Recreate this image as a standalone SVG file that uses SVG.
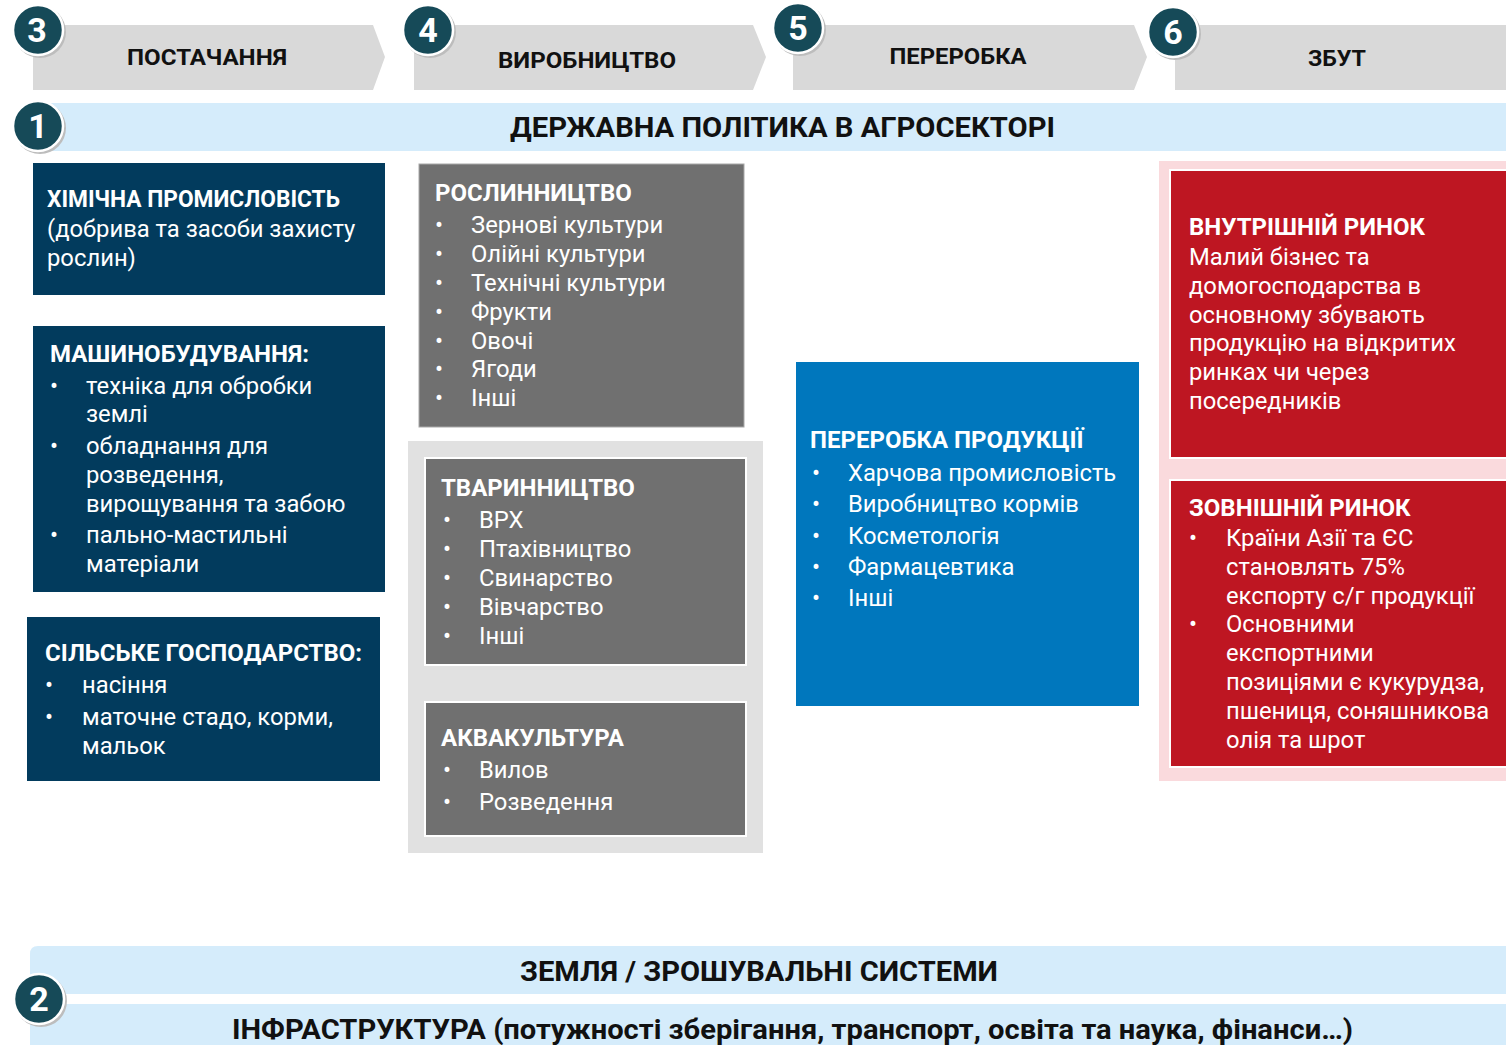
<svg xmlns="http://www.w3.org/2000/svg" width="1506" height="1045" viewBox="0 0 1506 1045">
<defs>
<style>
text{font-family:Roboto,"Liberation Sans",Arial,sans-serif;}
.chev{fill:#d9d9d9;}
.chevt{font-size:22px;font-weight:700;fill:#111;text-anchor:middle;}
.band{fill:#d5ecfb;}
.bandt{font-size:28px;font-weight:700;fill:#111;}
.circ{fill:#164a58;stroke:#fff;stroke-width:2.5;}
.circs{fill:#bdbdbd;}
.num{font-size:34px;font-weight:700;fill:#fff;text-anchor:middle;}
.navy{fill:#023b5d;}
.gray{fill:#707070;}
.grayc{fill:#e1e1e1;}
.blue{fill:#0077bd;}
.pink{fill:#fadadd;}
.red{fill:#be1622;stroke:#fff;stroke-width:2;}
.t{font-size:23.8px;fill:#fff;}
.b{font-weight:700;font-size:24px;}
</style>
</defs>
<rect width="1506" height="1045" fill="#fff"/>

<g id="stage-3-supply">
<polygon class="chev" points="33,25 373,25 385,57 373,90 33,90"/>
<text class="chevt" x="207" y="65" textLength="160" lengthAdjust="spacingAndGlyphs">ПОСТАЧАННЯ</text>
<circle class="circs" cx="40" cy="32" r="26"/>
<circle class="circ" cx="38" cy="30" r="25"/>
<text class="num" x="37" y="42">3</text>
</g>

<g id="stage-4-production">
<polygon class="chev" points="414,25 753,25 766,57 753,90 414,90"/>
<text class="chevt" x="587" y="68" textLength="178" lengthAdjust="spacingAndGlyphs">ВИРОБНИЦТВО</text>
<circle class="circs" cx="430" cy="32" r="26"/>
<circle class="circ" cx="428" cy="30" r="25"/>
<text class="num" x="428" y="42">4</text>
</g>

<g id="stage-5-processing">
<polygon class="chev" points="793,25 1134,25 1147,57 1134,90 793,90"/>
<text class="chevt" x="958" y="64" textLength="137" lengthAdjust="spacingAndGlyphs">ПЕРЕРОБКА</text>
<circle class="circs" cx="800" cy="30" r="26"/>
<circle class="circ" cx="798" cy="28" r="25"/>
<text class="num" x="798" y="40">5</text>
</g>

<g id="stage-6-sales">
<polygon class="chev" points="1175,25 1506,25 1506,90 1175,90"/>
<text class="chevt" x="1337" y="66" textLength="58" lengthAdjust="spacingAndGlyphs">ЗБУТ</text>
<circle class="circs" cx="1175" cy="34" r="26"/>
<circle class="circ" cx="1173" cy="32" r="25"/>
<text class="num" x="1173" y="44">6</text>
</g>

<g id="policy-band">
<rect class="band" x="40" y="103" width="1466" height="48"/>
<text class="bandt" x="510" y="137" textLength="545" lengthAdjust="spacingAndGlyphs">ДЕРЖАВНА ПОЛІТИКА В АГРОСЕКТОРІ</text>
<circle class="circs" cx="40" cy="128" r="26"/>
<circle class="circ" cx="38" cy="126" r="25"/>
<text class="num" x="38" y="138">1</text>
</g>

<g id="chemical-industry">
<rect class="navy" x="33" y="163" width="352" height="132"/>
<text class="t b" x="47" y="207" textLength="293" lengthAdjust="spacingAndGlyphs">ХІМІЧНА ПРОМИСЛОВІСТЬ</text>
<text class="t" x="47" y="237">(добрива та засоби захисту</text>
<text class="t" x="47" y="266">рослин)</text>
</g>

<g id="machinery">
<rect class="navy" x="33" y="326" width="352" height="266"/>
<text class="t b" x="50" y="362">МАШИНОБУДУВАННЯ:</text>
<text class="t" x="50" y="394">•</text><text class="t" x="86" y="394">техніка для обробки</text>
<text class="t" x="86" y="422">землі</text>
<text class="t" x="50" y="454">•</text><text class="t" x="86" y="454">обладнання для</text>
<text class="t" x="86" y="483">розведення,</text>
<text class="t" x="86" y="512">вирощування та забою</text>
<text class="t" x="50" y="543">•</text><text class="t" x="86" y="543">пально-мастильні</text>
<text class="t" x="86" y="572">матеріали</text>
</g>

<g id="agriculture">
<rect class="navy" x="27" y="617" width="353" height="164"/>
<text class="t b" x="45" y="661">СІЛЬСЬКЕ ГОСПОДАРСТВО:</text>
<text class="t" x="45" y="693">•</text><text class="t" x="82" y="693">насіння</text>
<text class="t" x="45" y="725">•</text><text class="t" x="82" y="725">маточне стадо, корми,</text>
<text class="t" x="82" y="754">мальок</text>
</g>

<g id="crop-farming">
<rect class="gray" x="419" y="164" width="325" height="263" stroke="#a8a8a8" stroke-width="1"/>
<text class="t b" x="435" y="201">РОСЛИННИЦТВО</text>
<text class="t" x="435" y="233">•</text><text class="t" x="471" y="233">Зернові культури</text>
<text class="t" x="435" y="262">•</text><text class="t" x="471" y="262">Олійні культури</text>
<text class="t" x="435" y="291">•</text><text class="t" x="471" y="291">Технічні культури</text>
<text class="t" x="435" y="320">•</text><text class="t" x="471" y="320">Фрукти</text>
<text class="t" x="435" y="349">•</text><text class="t" x="471" y="349">Овочі</text>
<text class="t" x="435" y="377">•</text><text class="t" x="471" y="377">Ягоди</text>
<text class="t" x="435" y="406">•</text><text class="t" x="471" y="406">Інші</text>
</g>

<g id="animal-container">
<rect class="grayc" x="408" y="441" width="355" height="412"/>
</g>

<g id="livestock">
<rect class="gray" x="425" y="458" width="321" height="207" stroke="#fff" stroke-width="2"/>
<text class="t b" x="441" y="496">ТВАРИННИЦТВО</text>
<text class="t" x="443" y="528">•</text><text class="t" x="479" y="528">ВРХ</text>
<text class="t" x="443" y="557">•</text><text class="t" x="479" y="557">Птахівництво</text>
<text class="t" x="443" y="586">•</text><text class="t" x="479" y="586">Свинарство</text>
<text class="t" x="443" y="615">•</text><text class="t" x="479" y="615">Вівчарство</text>
<text class="t" x="443" y="644">•</text><text class="t" x="479" y="644">Інші</text>
</g>

<g id="aquaculture">
<rect class="gray" x="425" y="702" width="321" height="134" stroke="#fff" stroke-width="2"/>
<text class="t b" x="441" y="746">АКВАКУЛЬТУРА</text>
<text class="t" x="443" y="778">•</text><text class="t" x="479" y="778">Вилов</text>
<text class="t" x="443" y="810">•</text><text class="t" x="479" y="810">Розведення</text>
</g>

<g id="processing">
<rect class="blue" x="796" y="362" width="343" height="344"/>
<text class="t b" x="810" y="448">ПЕРЕРОБКА ПРОДУКЦІЇ</text>
<text class="t" x="812" y="481">•</text><text class="t" x="848" y="481">Харчова промисловість</text>
<text class="t" x="812" y="512">•</text><text class="t" x="848" y="512">Виробництво кормів</text>
<text class="t" x="812" y="544">•</text><text class="t" x="848" y="544">Косметологія</text>
<text class="t" x="812" y="575">•</text><text class="t" x="848" y="575">Фармацевтика</text>
<text class="t" x="812" y="606">•</text><text class="t" x="848" y="606">Інші</text>
</g>

<g id="markets-container">
<rect class="pink" x="1159" y="161" width="347" height="620"/>
</g>

<g id="domestic-market">
<rect class="red" x="1170" y="170" width="340" height="288"/>
<text class="t b" x="1189" y="235">ВНУТРІШНІЙ РИНОК</text>
<text class="t" x="1189" y="265">Малий бізнес та</text>
<text class="t" x="1189" y="294">домогосподарства  в</text>
<text class="t" x="1189" y="323">основному збувають</text>
<text class="t" x="1189" y="351">продукцію на відкритих</text>
<text class="t" x="1189" y="380">ринках чи через</text>
<text class="t" x="1189" y="409">посередників</text>
</g>

<g id="foreign-market">
<rect class="red" x="1170" y="480" width="340" height="287"/>
<text class="t b" x="1189" y="516">ЗОВНІШНІЙ РИНОК</text>
<text class="t" x="1189" y="546">•</text><text class="t" x="1226" y="546">Країни Азії та ЄС</text>
<text class="t" x="1226" y="575">становлять 75%</text>
<text class="t" x="1226" y="604">експорту с/г продукції</text>
<text class="t" x="1189" y="632">•</text><text class="t" x="1226" y="632">Основними</text>
<text class="t" x="1226" y="661">експортними</text>
<text class="t" x="1226" y="690">позиціями є кукурудза,</text>
<text class="t" x="1226" y="719">пшениця, соняшникова</text>
<text class="t" x="1226" y="748">олія та шрот</text>
</g>

<g id="land-band">
<path class="band" d="M38,946 H1506 V994 H30 V954 Q30,946 38,946 Z"/>
<text class="bandt" x="520" y="981" textLength="478" lengthAdjust="spacingAndGlyphs">ЗЕМЛЯ / ЗРОШУВАЛЬНІ СИСТЕМИ</text>
</g>

<g id="infrastructure-band">
<rect class="band" x="30" y="1004" width="1476" height="41"/>
<text class="bandt" x="232" y="1039" textLength="1121" lengthAdjust="spacingAndGlyphs">ІНФРАСТРУКТУРА (потужності зберігання, транспорт, освіта та наука, фінанси…)</text>
</g>

<g id="marker-2">
<circle class="circs" cx="41" cy="1001" r="26"/>
<circle class="circ" cx="39" cy="999" r="25"/>
<text class="num" x="39" y="1011">2</text>
</g>

<g id="connectors"></g>
</svg>
